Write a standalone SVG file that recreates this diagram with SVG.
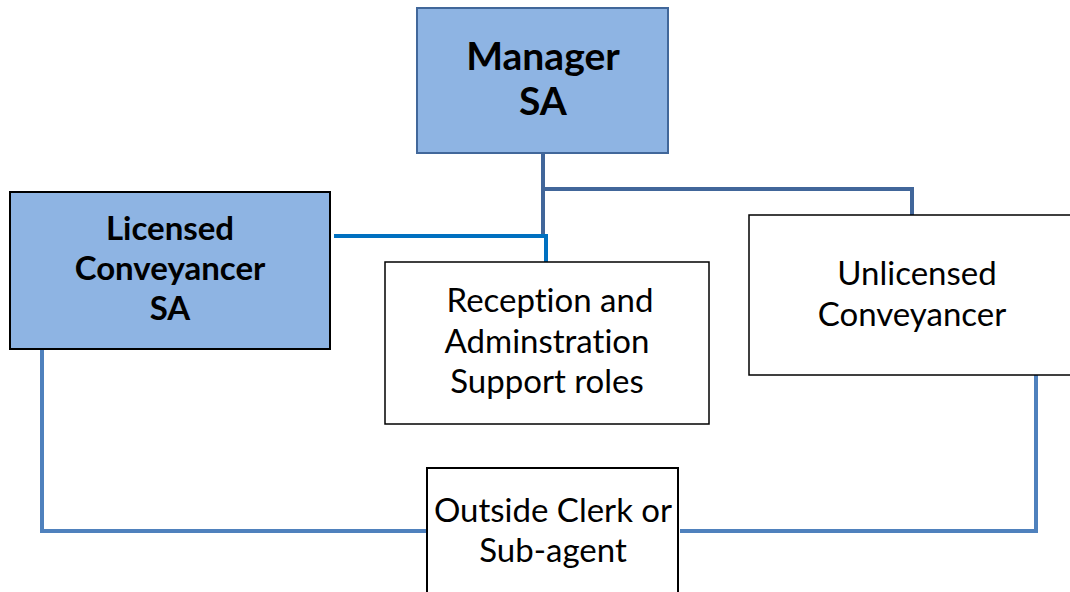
<svg xmlns="http://www.w3.org/2000/svg" width="1070" height="592" viewBox="0 0 1070 592">
<style>
text{font-variant-ligatures:none;font-feature-settings:"liga" 0}
.blue{fill:#8EB4E3}
.white{fill:#FFFFFF}
.bold{font-family:Lato,"Liberation Sans",sans-serif;font-weight:bold;fill:#000;text-anchor:middle}
.reg{font-family:Lato,"Liberation Sans",sans-serif;fill:#000;text-anchor:middle;font-size:33px}
.c1{fill:none;stroke:#41669A;stroke-width:4}
.c2{fill:none;stroke:#0070C0;stroke-width:4}
.c3{fill:none;stroke:#4F81BD;stroke-width:4}
</style>
<rect width="1070" height="592" fill="#FFFFFF"/>
<g id="connectors">
<path class="c1" d="M543 153 V237 M543 189 H912 V215"/>
<path class="c2" d="M334 236 H546 V262"/>
<path class="c3" d="M42 349 V531 H427"/>
<path class="c3" d="M1036 375 V531 H680"/>
</g>
<g id="manager">
<rect x="417" y="8" width="251" height="145" class="blue" stroke="#41679A" stroke-width="2"/>
<text class="bold" x="543" y="70" font-size="39">Manager</text>
<text class="bold" x="543" y="115" font-size="39">SA</text>
</g>
<g id="licensed">
<rect x="10" y="192" width="320" height="157" class="blue" stroke="#000" stroke-width="2"/>
<text class="bold" x="170" y="240" font-size="33">Licensed</text>
<text class="bold" x="170" y="280" font-size="33">Conveyancer</text>
<text class="bold" x="170" y="320" font-size="33">SA</text>
</g>
<g id="reception">
<rect x="385" y="262" width="324" height="162" class="white" stroke="#000" stroke-width="1.5"/>
<text class="reg" x="550" y="312">Reception and</text>
<text class="reg" x="547" y="353">Adminstration</text>
<text class="reg" x="547" y="393">Support roles</text>
</g>
<g id="unlicensed">
<rect x="749" y="215" width="330" height="160" class="white" stroke="#000" stroke-width="1.5"/>
<text class="reg" x="917" y="285">Unlicensed</text>
<text class="reg" x="912" y="326">Conveyancer</text>
</g>
<g id="outside">
<rect x="427" y="468" width="251" height="130" class="white" stroke="#000" stroke-width="2"/>
<text class="reg" x="553" y="522">Outside Clerk or</text>
<text class="reg" x="553" y="562">Sub-agent</text>
</g>
</svg>
